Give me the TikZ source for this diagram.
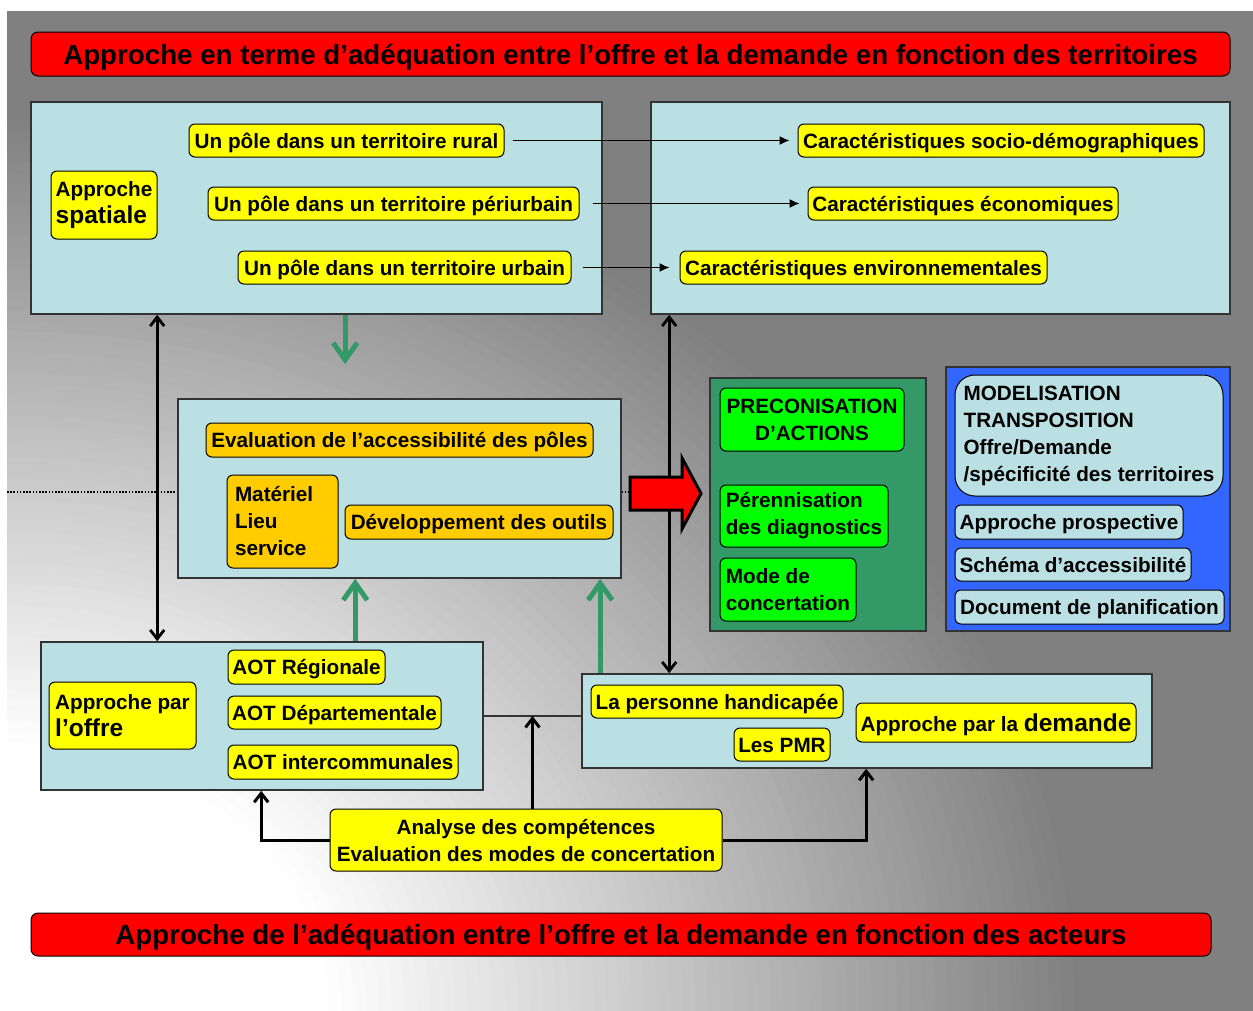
\documentclass[tikz,border=0pt]{standalone}
\usepackage{fontspec}
\setmainfont{Liberation Sans}
\usetikzlibrary{arrows.meta,calc}
\definecolor{cyanbox}{RGB}{187,224,227}
\definecolor{ybox}{RGB}{255,255,0}
\definecolor{obox}{RGB}{255,204,0}
\definecolor{gbox}{RGB}{0,255,0}
\definecolor{seag}{RGB}{51,153,102}
\definecolor{bluebox}{RGB}{51,102,255}
\definecolor{framec}{RGB}{51,51,51}
\definecolor{bggray}{RGB}{128,128,128}
\newcommand\bodyfont{\fontsize{20.7}{27}\selectfont\bfseries}
\newcommand\bigpart[1]{{\fontsize{24.5}{28}\selectfont #1}}
\tikzset{
  base/.style={inner sep=0pt, font=\bodyfont, text=black},
  container/.style={draw=framec, line width=1.6pt, fill=cyanbox, inner sep=0pt},
  pill/.style={base, draw=black, line width=1pt, rounded corners=6pt, align=center},
  ypill/.style={pill, fill=ybox},
  opill/.style={pill, fill=obox},
  gpill/.style={pill, fill=gbox},
  cpill/.style={pill, fill=cyanbox},
  oneline/.style={text height=15pt, text depth=0pt},
  banner/.style={draw=black, line width=1pt, fill=red, rounded corners=7pt,
    font=\fontsize{27.7}{32}\selectfont\bfseries, inner sep=0pt, text height=20pt, text depth=0pt},
  thinarrow/.style={line width=1.3pt, -{Latex[length=10pt,width=9pt]}},
  dblarrow/.style={line width=2.8pt, {Straight Barb[length=9pt,width=14pt]}-{Straight Barb[length=9pt,width=14pt]}},
  uparrow/.style={line width=3pt, -{Straight Barb[length=9pt,width=14pt]}},
  greenarrow/.style={draw=seag, line width=5pt, -{Straight Barb[length=17pt,width=24pt]}},
  dotline/.style={line width=1.6pt, dash pattern=on 1.6pt off 1.6pt},
}
\begin{document}
\begin{tikzpicture}[x=1pt,y=-1pt]
\useasboundingbox (0,0) rectangle (1253,1010);
\fill[white] (0,0) rectangle (1253,1010);
\begin{scope}
\clip (7,11) rectangle (1265,1025);
\fill[bggray] (7,11) rectangle (1265,1025);
\foreach \i in {1,...,60} {
  \pgfmathsetmacro\dd{1-\i*0.0117}
  \pgfmathsetmacro\pp{max(0,min(100,100*(\dd-0.3)/0.7))}
  \fill[bggray!\pp!white] (7,1010) ellipse [x radius=\dd*1080pt, y radius=\dd*900pt];
}
\end{scope}

% banners
\node[banner, minimum width=1199pt, minimum height=44pt] (ban1) at (630.5,54)
  {Approche en terme d’adéquation entre l’offre et la demande en fonction des territoires};
\node[banner, minimum width=1180pt, minimum height=43pt] (ban2) at (621,934.5)
  {Approche de l’adéquation entre l’offre et la demande en fonction des acteurs};

% dotted line behind middle box
\coordinate (dotL) at (7,492);
\coordinate (dotR) at (630,492);
\draw[dotline] (dotL) -- (dotR);

% containers
\node[container, minimum width=571pt, minimum height=212pt] (boxTL) at (316.5,208) {};
\node[container, minimum width=579pt, minimum height=212pt] (boxTR) at (940.5,208) {};
\node[container, minimum width=443pt, minimum height=179pt] (boxM) at (399.5,488.5) {};
\node[container, minimum width=442pt, minimum height=148pt] (boxBL) at (262,716) {};
\node[container, minimum width=570pt, minimum height=94pt] (boxBR) at (867,721) {};
\node[draw=framec, line width=1.6pt, fill=seag, minimum width=216pt, minimum height=253pt, inner sep=0pt] (boxG) at (818,504.5) {};
\node[draw=framec, line width=1.6pt, fill=bluebox, minimum width=284pt, minimum height=264pt, inner sep=0pt] (boxB) at (1088,499) {};

% top-left
\node[ypill, align=left, minimum width=106pt, minimum height=68pt] (spat) at (104,205) {Approche\\\bigpart{spatiale}};
\node[ypill, oneline, minimum width=315pt, minimum height=33pt] (p1) at (346.5,140.5) {Un pôle dans un territoire rural};
\node[ypill, oneline, minimum width=371pt, minimum height=33pt] (p2) at (393.5,203.5) {Un pôle dans un territoire périurbain};
\node[ypill, oneline, minimum width=333pt, minimum height=33pt] (p3) at (404.5,267.5) {Un pôle dans un territoire urbain};
% top-right
\node[ypill, oneline, minimum width=406pt, minimum height=33pt] (c1) at (1001,140.5) {Caractéristiques socio-démographiques};
\node[ypill, oneline, minimum width=310pt, minimum height=33pt] (c2) at (963,203.5) {Caractéristiques économiques};
\node[ypill, oneline, minimum width=367pt, minimum height=33pt] (c3) at (863.5,267.5) {Caractéristiques environnementales};

\draw[thinarrow, shorten <=8pt, shorten >=8pt] (p1) -- (c1);
\draw[thinarrow, shorten <=13pt, shorten >=8pt] (p2) -- (c2);
\draw[thinarrow, shorten <=11pt, shorten >=10pt] (p3) -- (c3);

% middle
\node[opill, oneline, minimum width=387pt, minimum height=34pt] (ev) at (399.5,440) {Evaluation de l’accessibilité des pôles};
\node[opill, align=left, text width=95pt, inner xsep=8pt, minimum height=93pt] (mat) at (282.5,521.5) {Matériel\\Lieu\\service};
\node[opill, oneline, minimum width=268pt, minimum height=34pt] (dev) at (479,522) {Développement des outils};

% green box
\node[gpill, minimum width=184pt, minimum height=63pt] (prec) at (812,419.5) {PRECONISATION\\D’ACTIONS};
\node[gpill, align=left, minimum width=168pt, minimum height=62pt] (pere) at (804,516) {Pérennisation\\des diagnostics};
\node[gpill, align=left, minimum width=136pt, minimum height=63pt] (mode) at (788,589.5) {Mode de\\concertation};

% blue box
\node[cpill, align=left, rounded corners=20pt, minimum width=268pt, minimum height=121pt] (model) at (1089,435.5)
  {MODELISATION\\TRANSPOSITION\\Offre/Demande\\/spécificité des territoires};
\node[cpill, oneline, minimum width=228pt, minimum height=34pt] (pros) at (1069,522) {Approche prospective};
\node[cpill, oneline, minimum width=236pt, minimum height=33pt] (sch) at (1073,564.5) {Schéma d’accessibilité};
\node[cpill, oneline, minimum width=269pt, minimum height=34pt] (doc) at (1089.5,607) {Document de planification};

% bottom-left
\node[ypill, align=left, minimum width=147pt, minimum height=67pt] (offre) at (122.5,715.5) {Approche par\\\bigpart{l’offre}};
\node[ypill, oneline, minimum width=157pt, minimum height=34pt] (aot1) at (306.5,667) {AOT Régionale};
\node[ypill, oneline, minimum width=213pt, minimum height=33pt] (aot2) at (334.5,712.5) {AOT Départementale};
\node[ypill, oneline, minimum width=230pt, minimum height=34pt] (aot3) at (343,762) {AOT intercommunales};

% bottom-right
\node[ypill, oneline, minimum width=252pt, minimum height=33pt] (hand) at (717,701.5) {La personne handicapée};
\node[ypill, oneline, minimum width=96pt, minimum height=33pt] (pmr) at (782,744.5) {Les PMR};
\node[ypill, text height=17.5pt, text depth=0pt, minimum width=280pt, minimum height=39pt] (dem) at (996,722.5) {Approche par la \bigpart{demande}};

% analyse
\node[ypill, minimum width=392pt, minimum height=62pt] (an) at (526,840) {Analyse des compétences\\Evaluation des modes de concertation};

% vertical double arrows
\draw[dblarrow] ($(boxTL.south west)+(127,0)$) -- ($(boxBL.north west)+(117,0)$);
\draw[dblarrow] ($(boxTR.south west)+(19,0)$) -- ($(boxBR.north west)+(88,0)$);

% green arrows
\draw[greenarrow] ($(boxTL.south west)+(315,0)$) -- ($(boxM.north west)+(168,-34)$);
\draw[greenarrow] ($(boxBL.north west)+(315,0)$) -- ($(boxM.south west)+(178,0)$);
\draw[greenarrow] ($(boxBR.north west)+(19,0)$) -- ($(boxM.south west)+(423,0)$);

% connector between bottom boxes
\coordinate (mid) at ($(boxBL.east)!0.5!(boxBL.east -| boxBR.west)$);
\draw[draw=framec, line width=2pt] (boxBL.east) -- (boxBL.east -| boxBR.west);
\draw[uparrow] (an.north -| mid) -- (mid);
\draw[uparrow] (an.west) -| ($(boxBL.south west)+(221,0)$);
\draw[uparrow] (an.east) -| ($(boxBR.south west)+(285,0)$);

% red block arrow
\coordinate (ra1) at (630,477);
\coordinate (ra2) at (682,477);
\coordinate (ra3) at (682,458);
\coordinate (ra4) at (701,493.5);
\coordinate (ra5) at (682,529);
\coordinate (ra6) at (682,510);
\coordinate (ra7) at (630,510);
\draw[fill=red, line width=3pt, line join=miter] (ra1) -- (ra2) -- (ra3) -- (ra4) -- (ra5) -- (ra6) -- (ra7) -- cycle;
\end{tikzpicture}
\end{document}
